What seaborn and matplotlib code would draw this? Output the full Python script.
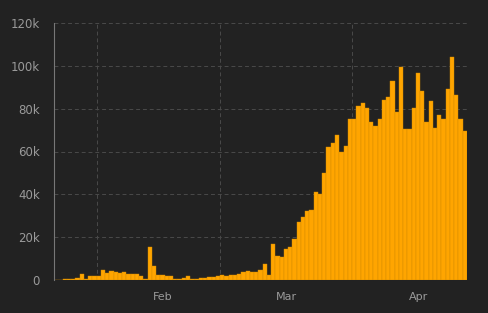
import numpy as np
import pandas as pd
import matplotlib
matplotlib.use("Agg")
import matplotlib.pyplot as plt
import seaborn as sns

# Daily new cases (thousands), Jan 22 - Apr 27 2020
jan = [0.1, 0.1, 0.3, 0.5, 0.7, 0.8, 2.7, 0.6, 2.1, 1.7]
feb = [2.1, 4.7, 3.1, 4.0, 3.7, 3.2, 3.6, 2.7, 3.0, 2.6, 2.0, 0.5, 15.6, 6.5, 2.2,
       2.2, 2.1, 1.9, 0.6, 0.5, 1.0, 1.7, 0.5, 0.7, 0.9, 1.0, 1.3, 1.5, 1.9]
mar = [2.2, 1.8, 2.3, 2.3, 2.7, 3.8, 4.1, 3.9, 3.8, 4.7, 7.5, 2.3, 16.7, 11.2, 10.7,
       14.5, 15.4, 19.1, 27.2, 29.6, 32.2, 32.7, 41.1, 40.2, 50.1, 62.2, 64.0, 67.7,
       59.8, 62.6, 75.2]
apr = [75.2, 81.2, 82.8, 80.3, 73.9, 72.1, 75.2, 84.0, 85.4, 92.9, 78.6, 99.5, 70.5,
       70.5, 80.3, 96.6, 88.2, 73.9, 83.6, 71.1, 77.0, 75.2, 89.2, 104.1, 86.4, 75.2,
       69.7]
start_date = "2020-01-22"
month_labels = ["Feb", "Mar", "Apr"]
month_starts = ["2020-02-01", "2020-03-01", "2020-04-01"]
label_days = ["2020-02-16", "2020-03-16", "2020-04-16"]
y_ticks = [0, 20000, 40000, 60000, 80000, 100000, 120000]
y_labels = ["0", "20k", "40k", "60k", "80k", "100k", "120k"]

values = np.array(jan + feb + mar + apr) * 1000
dates = pd.date_range(start_date, periods=len(values))
df = pd.DataFrame({"pos": np.arange(len(values)), "cases": values})

BG = "#222222"
BAR = "#FFA500"
GRID = "#4a4a4a"
TXT = "#9a9a9a"

sns.set_style("dark")
fig = plt.figure(figsize=(4.89, 3.13), dpi=100, facecolor=BG)
ax = fig.add_axes([54 / 489, 1 - 280 / 313, (467 - 54) / 489, (280 - 23) / 313])
ax.set_facecolor(BG)

sns.barplot(data=df, x="pos", y="cases", color=BAR, width=1.0, ax=ax,
            edgecolor="#d28a00", linewidth=0.3, saturation=1, native_scale=True)

def pos_of(d):
    return (pd.Timestamp(d) - dates[0]).days

ax.set_xlim(-0.5, len(values) - 0.5)
ax.set_ylim(0, 120000)

ax.set_xticks([pos_of(d) - 0.5 for d in month_starts])
ax.set_xticklabels([])
ax.set_xticks([pos_of(d) for d in label_days], minor=True)
ax.set_xticklabels(month_labels, minor=True)
ax.tick_params(axis="x", which="major", length=4, width=0.8, color="#777777", direction="out")
ax.tick_params(axis="x", which="minor", length=0, pad=9, labelcolor=TXT, labelsize=8)

ax.set_yticks(y_ticks)
ax.set_yticklabels(y_labels)
ax.tick_params(axis="y", length=5, width=0.8, color="#777777", pad=5, labelcolor=TXT, labelsize=8.5)

ax.grid(True, which="major", axis="both", color=GRID, linestyle=(0, (4, 3)), linewidth=0.7)
ax.set_axisbelow(True)
for s in ["top", "right", "bottom"]:
    ax.spines[s].set_visible(False)
ax.spines["left"].set_color("#777777")
ax.spines["left"].set_linewidth(0.8)
ax.set_xlabel("")
ax.set_ylabel("")

fig.savefig("out.png", dpi=100, facecolor=BG)
